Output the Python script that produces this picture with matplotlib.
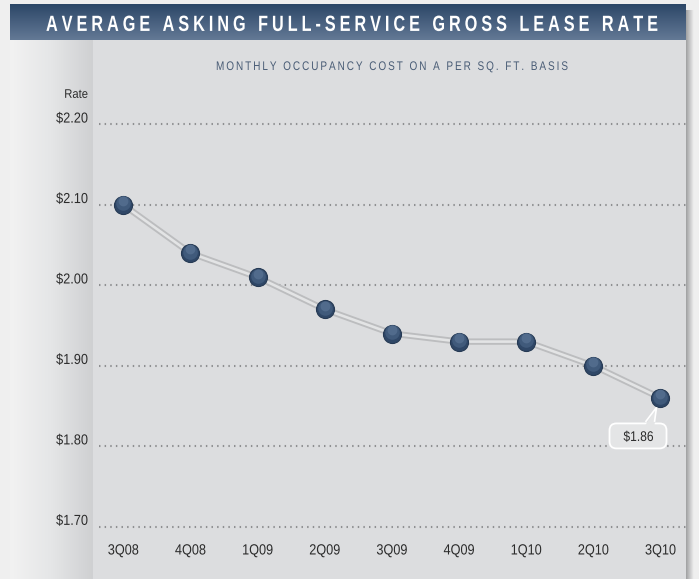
import matplotlib
matplotlib.use("Agg")
import matplotlib.pyplot as plt
import matplotlib.transforms as mtransforms
import numpy as np
from matplotlib.colors import LinearSegmentedColormap
from matplotlib.font_manager import FontProperties, findfont, get_font
from matplotlib.patches import FancyBboxPatch, PathPatch, Polygon, Rectangle
from matplotlib.textpath import TextPath

# data
QUARTERS = ["3Q08", "4Q08", "1Q09", "2Q09", "3Q09", "4Q09", "1Q10", "2Q10", "3Q10"]
RATES = [2.10, 2.04, 2.01, 1.97, 1.94, 1.93, 1.93, 1.90, 1.86]
Y_TICKS = [1.70, 1.80, 1.90, 2.00, 2.10, 2.20]
Y_TICK_LABELS = ["$1.70", "$1.80", "$1.90", "$2.00", "$2.10", "$2.20"]

TITLE = "AVERAGE ASKING FULL-SERVICE GROSS LEASE RATE"
SUBTITLE = "MONTHLY OCCUPANCY COST ON A PER SQ. FT. BASIS"
Y_LABEL = "Rate"

TEXT_COLOR = "#2b2b2b"

W, H = 699, 579
fig = plt.figure(figsize=(W / 100, H / 100), dpi=100)
fig.patch.set_facecolor("#efefef")

# background, drawn in pixel coords (y down)
bg = fig.add_axes([0, 0, 1, 1])
bg.axis("off")
bg.imshow(np.linspace(0, 1, 20).reshape(1, -1), extent=(684, 694, H, 10), aspect="auto", zorder=0,
          cmap=LinearSegmentedColormap.from_list("sh", ["#8c8d8f", "#efefef"]))
bg.add_patch(Rectangle((10, 40), 676, H - 40, facecolor="#dcdddf", edgecolor="none", zorder=1))
bg.imshow(np.linspace(0, 1, 100).reshape(1, -1), extent=(10, 93, H, 40), aspect="auto", zorder=2,
          cmap=LinearSegmentedColormap.from_list("band", ["#f2f2f2", "#e5e6e7", "#cfd0d2"]))
bg.imshow(np.linspace(0, 1, 100).reshape(-1, 1), extent=(10, 686, 40, 4), aspect="auto", zorder=2,
          cmap=LinearSegmentedColormap.from_list("bar", ["#2c4767", "#48607f", "#637995"]))
bg.set_xlim(0, W)
bg.set_ylim(H, 0)


def cond_text(target, trans, x, y, s, size, sx=0.85, spacing=0.0, width=None, ha="center",
              dx=0.0, dy=0.0, color=TEXT_COLOR, weight="normal", zorder=5):
    """Horizontally condensed, letter-spaced text drawn as paths (size in pixels)."""
    prop = FontProperties(family="Liberation Sans", weight=weight)
    font = get_font(findfont(prop))
    font.set_size(size, 72)
    adv = [font.load_char(ord(ch)).linearHoriAdvance / 65536 for ch in s]
    if width is not None:
        spacing = (width / sx - sum(adv)) / (len(s) - 1)
    pos, cur = [], 0.0
    for a in adv:
        pos.append(cur)
        cur += a + spacing
    total = (cur - spacing) * sx
    off = {"center": -total / 2, "left": 0.0, "right": -total}[ha]
    cap = 0.72 * size
    anchor = mtransforms.ScaledTranslation(x, y, trans)
    for ch, p in zip(s, pos):
        if ch == " ":
            continue
        path = TextPath((0, 0), ch, size=size, prop=prop)
        tr = (mtransforms.Affine2D().translate(p, 0).scale(sx, 1)
              .translate(off + dx, dy - cap / 2) + anchor)
        target.add_artist(PathPatch(path, transform=tr, fc=color, ec="none", lw=0,
                                    zorder=zorder, clip_on=False, snap=False))


cond_text(bg, bg.transData, 352, 23, TITLE, 22, sx=0.74, width=612, color="white", weight="bold")
cond_text(bg, bg.transData, 392, 65.5, SUBTITLE, 12.5, sx=0.8, width=352, color="#4a5d76")

# data axes, placed so the gridlines land where the original has them
x0, x1 = 93, 686
ax = fig.add_axes([x0 / W, 0, (x1 - x0) / W, (H - 40) / H])
ax.set_facecolor("none")
ax.axis("off")
px_per_unit = 804.0
ax.set_ylim(1.70 - (H - 526.7) / px_per_unit, 2.20 + (124.3 - 40) / px_per_unit)
step = 67.15
ax.set_xlim((x0 - 123.3) / step, (x1 - 123.3) / step)

xs = np.arange(len(QUARTERS))
ytrans = mtransforms.blended_transform_factory(ax.transAxes, ax.transData)

for v, lab in zip(Y_TICKS, Y_TICK_LABELS):
    ax.plot([6 / (x1 - x0), 1], [v, v], transform=ytrans, color="#8e8f91", lw=1.5,
            linestyle=(0, (0.7, 2.0)), zorder=1)
    cond_text(ax, ytrans, 0, v, lab, 14.5, sx=0.88, ha="right", dx=-5, dy=7)

cond_text(ax, ytrans, 0, Y_TICKS[-1], Y_LABEL, 12.5, sx=0.9, ha="right", dx=-5, dy=31)
for x, q in zip(xs, QUARTERS):
    cond_text(ax, ax.transData, x, Y_TICKS[0], q, 14.8, sx=0.86, dy=-22.5)

# the double (outlined) line and the markers
ax.plot(xs, RATES, color="#bcbdbf", lw=4.6, solid_capstyle="round", zorder=2)
ax.plot(xs, RATES, color="#e3e4e5", lw=1.9, solid_capstyle="round", zorder=3)
ax.plot(xs, RATES, "o", ms=13, mfc="#2f4767", mec="#263a54", mew=0.8, zorder=4)
up = lambda px: ax.transData + mtransforms.ScaledTranslation(0, px / 72, fig.dpi_scale_trans)
ax.plot(xs, RATES, "o", ms=10.5, mfc="#405a7b", mec="none", zorder=5, transform=up(1.0))
ax.plot(xs, RATES, "o", ms=7, mfc="#546e8f", mec="none", alpha=0.9, zorder=5, transform=up(2.6))

# callout for the last value
last = len(RATES) - 1
ptrans = mtransforms.ScaledTranslation(xs[last], RATES[last], ax.transData)
box_fc = "#e4e5e6"
box = FancyBboxPatch((-51, -50.5), 57, 25, boxstyle="round,pad=0,rounding_size=7",
                     transform=mtransforms.IdentityTransform() + ptrans,
                     fc=box_fc, ec="white", lw=1.3, zorder=6, clip_on=False)
ax.add_artist(box)
tip = [(-15, -24), (-4, -9.5), (-6, -24)]
ax.add_artist(Polygon([(-15, -27), (-4, -9.5), (-6, -27)], closed=True,
                      transform=mtransforms.IdentityTransform() + ptrans,
                      fc=box_fc, ec="none", zorder=7, clip_on=False))
ax.add_artist(Polygon(tip, closed=False, fill=False,
                      transform=mtransforms.IdentityTransform() + ptrans,
                      ec="white", lw=1.2, zorder=7, clip_on=False))
cond_text(ax, ax.transData, xs[last], RATES[last], f"${RATES[last]:.2f}", 14, sx=0.86,
          dx=-22, dy=-38, zorder=8)

fig.savefig("out.png", dpi=100, facecolor=fig.get_facecolor())
